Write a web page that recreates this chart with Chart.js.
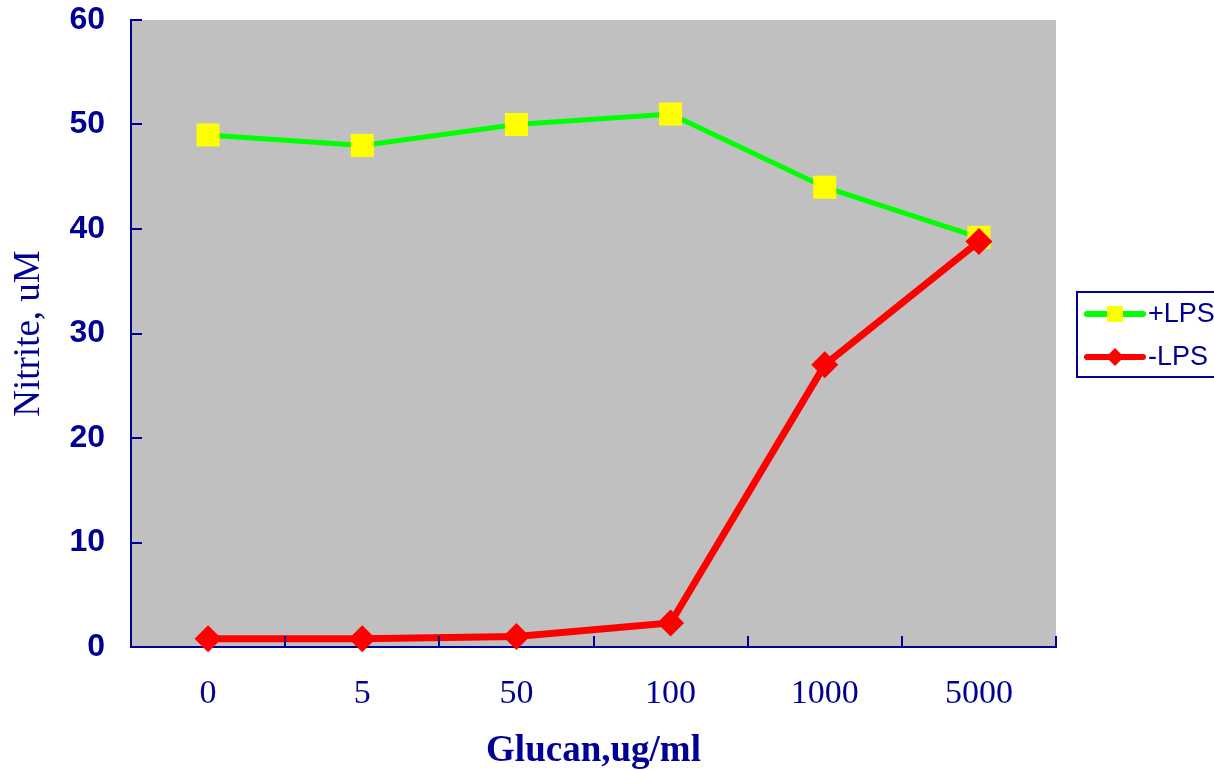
<!DOCTYPE html>
<html>
<head>
<meta charset="utf-8">
<script src="https://cdn.jsdelivr.net/npm/chart.js@4/dist/chart.umd.min.js"></script>
<style>
  html, body { margin: 0; padding: 0; background: #ffffff; }
  #wrap { width: 1214px; height: 770px; }
</style>
</head>
<body>
<div id="wrap"><canvas id="c" width="1214" height="770"></canvas></div>
<script>
// Glucan dose categories (ug/ml)
const categories = ['0', '5', '50', '100', '1000', '5000'];
// Nitrite (uM) with LPS stimulation
const plusLPS = [49, 48, 50, 51, 44, 39.2];
// Nitrite (uM) without LPS
const minusLPS = [0.8, 0.8, 1.0, 2.3, 27, 38.8];
// Y axis range and step
const yMin = 0, yMax = 60, yStep = 10;

const NAVY = '#000096';

// Grey plot background
const plotBg = {
  id: 'plotBg',
  beforeDraw(chart) {
    const { ctx, chartArea: a } = chart;
    ctx.save();
    ctx.fillStyle = '#C0C0C0';
    ctx.fillRect(a.left, a.top, a.right - a.left, a.bottom - a.top);
    ctx.restore();
  }
};

// Inward tick marks on both axes
const innerTicks = {
  id: 'innerTicks',
  afterDatasetsDraw(chart) {
    const { ctx, chartArea: a, scales } = chart;
    ctx.save();
    ctx.strokeStyle = NAVY;
    ctx.lineWidth = 2;
    ctx.beginPath();
    const y = scales.y;
    y.ticks.forEach(t => {
      const py = Math.round(y.getPixelForValue(t.value));
      ctx.moveTo(a.left, py);
      ctx.lineTo(a.left + 11, py);
    });
    const x = scales.x;
    const half = (x.getPixelForValue(1) - x.getPixelForValue(0)) / 2;
    for (let i = 0; i <= categories.length; i++) {
      const px = Math.round(x.getPixelForValue(0) - half + i * 2 * half);
      ctx.moveTo(px, a.bottom);
      ctx.lineTo(px, a.bottom - 11);
    }
    ctx.stroke();
    ctx.restore();
  }
};

// Boxed legend to the right of the plot
const boxLegend = {
  id: 'boxLegend',
  afterDraw(chart) {
    const { ctx } = chart;
    const bx = 1077, by = 292, bw = 150, bh = 85;
    ctx.save();
    ctx.fillStyle = '#ffffff';
    ctx.fillRect(bx, by, bw, bh);
    ctx.strokeStyle = NAVY;
    ctx.lineWidth = 2;
    ctx.strokeRect(bx, by, bw, bh);
    const rows = [by + 22, by + 65];
    chart.data.datasets.forEach((ds, i) => {
      const cy = rows[i];
      ctx.strokeStyle = ds.borderColor;
      ctx.lineWidth = 6;
      ctx.lineCap = 'round';
      ctx.beginPath();
      ctx.moveTo(1087, cy);
      ctx.lineTo(1143, cy);
      ctx.stroke();
      ctx.fillStyle = ds.pointBackgroundColor;
      ctx.beginPath();
      if (ds.pointStyle === 'rect') {
        ctx.rect(1115 - 8, cy - 8, 16, 16);
      } else {
        ctx.moveTo(1115, cy - 9);
        ctx.lineTo(1124, cy);
        ctx.lineTo(1115, cy + 9);
        ctx.lineTo(1106, cy);
        ctx.closePath();
      }
      ctx.fill();
      ctx.fillStyle = NAVY;
      ctx.font = '27px "Liberation Sans", Arial, sans-serif';
      ctx.textBaseline = 'middle';
      ctx.textAlign = 'left';
      ctx.fillText(ds.label, 1148, cy + 1);
    });
    ctx.restore();
  }
};

new Chart(document.getElementById('c'), {
  type: 'line',
  data: {
    labels: categories,
    datasets: [
      {
        label: '+LPS',
        data: plusLPS,
        order: 1,
        borderColor: '#00FF00',
        borderWidth: 5,
        pointStyle: 'rect',
        pointRadius: 16.3,
        pointBackgroundColor: '#FFFF00',
        pointBorderColor: '#FFFF00',
        pointBorderWidth: 0,
        tension: 0
      },
      {
        label: '-LPS',
        data: minusLPS,
        order: 0,
        borderColor: '#FF0000',
        borderWidth: 7,
        pointStyle: 'rectRot',
        pointRadius: 13.5,
        pointBackgroundColor: '#FF0000',
        pointBorderColor: '#FF0000',
        pointBorderWidth: 0,
        tension: 0
      }
    ]
  },
  options: {
    responsive: false,
    animation: false,
    clip: false,
    layout: { padding: { left: 0, top: 20, right: 158, bottom: 0 } },
    plugins: {
      legend: { display: false },
      tooltip: { enabled: false }
    },
    scales: {
      x: {
        offset: true,
        grid: { display: false, drawTicks: false },
        border: { display: true, color: NAVY, width: 2 },
        ticks: {
          color: NAVY,
          padding: 27,
          font: { family: '"Liberation Serif", "Times New Roman", serif', size: 34 }
        },
        title: {
          display: true,
          text: 'Glucan,ug/ml',
          color: NAVY,
          padding: { top: 0, bottom: 0 },
          font: { family: '"Liberation Serif", "Times New Roman", serif', size: 37, weight: 'bold', lineHeight: 1 }
        },
        afterFit(s) { s.height = 123; s.paddingLeft = 0; s.paddingRight = 0; }
      },
      y: {
        min: yMin,
        max: yMax,
        grid: { display: false, drawTicks: false },
        border: { display: true, color: NAVY, width: 2 },
        ticks: {
          stepSize: yStep,
          color: NAVY,
          padding: 26,
          font: { family: '"Liberation Sans", Arial, sans-serif', size: 32, weight: 'bold' }
        },
        title: {
          display: true,
          text: 'Nitrite, uM',
          color: NAVY,
          padding: { top: 11, bottom: 0 },
          font: { family: '"Liberation Serif", "Times New Roman", serif', size: 37, lineHeight: 1 }
        },
        afterFit(s) { s.width = 131; s.paddingTop = 0; s.paddingBottom = 0; }
      }
    }
  },
  plugins: [plotBg, innerTicks, boxLegend]
});
</script>
</body>
</html>
